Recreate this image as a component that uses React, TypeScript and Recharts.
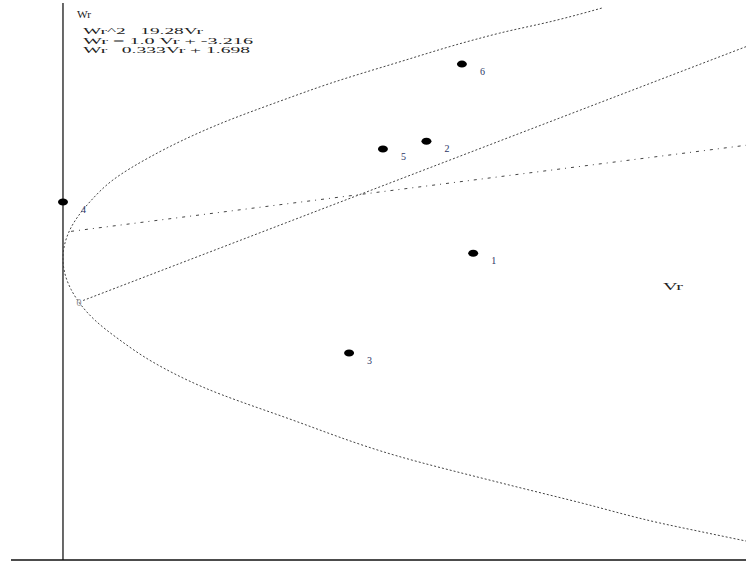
import React from 'react'
import { ReferenceLine, Scatter, ScatterChart, XAxis, YAxis } from 'recharts'

// Wr^2 = 19.28 Vr (Vr, Wr)
const upperBranch = [
    { vr: 13.37, wr: 16.23 },
    { vr: 12.16, wr: 15.39 },
    { vr: 10.84, wr: 14.61 },
    { vr: 10.18, wr: 14.16 },
    { vr: 8.3, wr: 12.7 },
    { vr: 6.63, wr: 11.35 },
    { vr: 5.46, wr: 10.27 },
    { vr: 3.82, wr: 8.65 },
    { vr: 2.16, wr: 6.58 },
    { vr: 1.24, wr: 5.09 },
    { vr: 0.67, wr: 3.68 },
    { vr: 0.17, wr: 1.85 },
    { vr: 0.04, wr: 0.9 },
    { vr: 0, wr: 0 },
]
const lowerBranch = [
    { vr: 0.04, wr: -0.9 },
    { vr: 0.2, wr: -2.0 },
    { vr: 0.79, wr: -3.99 },
    { vr: 1.41, wr: -5.28 },
    { vr: 2.23, wr: -6.71 },
    { vr: 3.47, wr: -8.33 },
    { vr: 5.56, wr: -10.34 },
    { vr: 8.3, wr: -12.8 },
    { vr: 10.8, wr: -14.5 },
    { vr: 12.8, wr: -15.8 },
    { vr: 14.81, wr: -17.14 },
    { vr: 15.88, wr: -17.73 },
    { vr: 16.95, wr: -18.31 },
]

// Wr = 1.0 Vr - 3.216
const fitLine = [
    { vr: 0.5, wr: -2.72 },
    { vr: 16.95, wr: 13.73 },
]
// Wr = 0.333 Vr + 1.698
const flatLine = [
    { vr: 0.2, wr: 1.76 },
    { vr: 16.95, wr: 7.34 },
]

const samples = [
    { vr: 10.18, wr: 0.34, tag: '1' },
    { vr: 9.02, wr: 7.6, tag: '2' },
    { vr: 7.1, wr: -6.12, tag: '3' },
    { vr: 0, wr: 3.66, tag: '4' },
    { vr: 7.94, wr: 7.1, tag: '5' },
    { vr: 9.9, wr: 12.6, tag: '6' },
]
const originMark = [{ vr: 0.4, wr: -2.82, tag: '0' }]

const equations = ['Wr^2   19.28Vr', 'Wr = 1.0 Vr + -3.216', 'Wr   0.333Vr + 1.698']
const eqWidths = [120, 170, 167]

const vrDomain = [-1.29, 16.95]
const wrDomain = [-19.54, 16.56]

const serif = '"Liberation Serif", "Times New Roman", serif'

const Hidden = () => <g />

const SampleDot = (p: any) => (
    <g>
        <ellipse cx={p.cx} cy={p.cy} rx={5} ry={3.5} fill="#000" />
        <text x={p.cx + 18} y={p.cy + 11} fontSize={10} fontFamily={serif} fill="#2b3566">
            {p.payload.tag}
        </text>
    </g>
)

const OriginText = (p: any) => (
    <text x={p.cx} y={p.cy + 3.5} fontSize={10} fontFamily={serif} fill="#888" textAnchor="middle">
        {p.payload.tag}
    </text>
)

const App = () => {
    return (
        <div style={{ position: 'absolute', left: 0, top: 0, width: 746, height: 561, background: '#fff' }}>
            <ScatterChart width={746} height={561} margin={{ top: 3, right: 0, bottom: 0, left: 11 }}>
                <XAxis
                    type="number"
                    dataKey="vr"
                    domain={vrDomain}
                    allowDataOverflow
                    height={1}
                    tick={false}
                    tickLine={false}
                    axisLine={{ stroke: '#111', strokeWidth: 1.5 }}
                />
                <YAxis type="number" dataKey="wr" domain={wrDomain} allowDataOverflow hide />
                <ReferenceLine x={0} stroke="#444" strokeWidth={1.6} />
                <Scatter
                    data={[...upperBranch, ...lowerBranch]}
                    shape={Hidden}
                    line={{ stroke: '#444', strokeWidth: 1, strokeDasharray: '2 2' }}
                    lineJointType="monotoneY"
                    isAnimationActive={false}
                />
                <Scatter
                    data={fitLine}
                    shape={Hidden}
                    line={{ stroke: '#444', strokeWidth: 1, strokeDasharray: '2 2' }}
                    isAnimationActive={false}
                />
                <Scatter
                    data={flatLine}
                    shape={Hidden}
                    line={{ stroke: '#444', strokeWidth: 1, strokeDasharray: '3 5 1 5' }}
                    isAnimationActive={false}
                />
                <Scatter data={originMark} shape={OriginText} isAnimationActive={false} />
                <Scatter data={samples} shape={SampleDot} isAnimationActive={false} />
            </ScatterChart>
            <svg
                width={746}
                height={561}
                style={{ position: 'absolute', left: 0, top: 0, pointerEvents: 'none' }}
            >
                <text
                    x={77}
                    y={18}
                    fontSize={11}
                    fontFamily={serif}
                    fill="#222"
                    textLength={14}
                    lengthAdjust="spacingAndGlyphs"
                >
                    Wr
                </text>
                {equations.map((eq, i) => (
                    <text
                        key={eq}
                        x={83}
                        y={34 + i * 9.5}
                        fontSize={9}
                        fontFamily={serif}
                        fill="#222"
                        textLength={eqWidths[i]}
                        lengthAdjust="spacingAndGlyphs"
                        style={{ whiteSpace: 'pre' }}
                    >
                        {eq}
                    </text>
                ))}
                <text
                    x={663}
                    y={290}
                    fontSize={11}
                    fontFamily={serif}
                    fill="#222"
                    textLength={20}
                    lengthAdjust="spacingAndGlyphs"
                >
                    Vr
                </text>
            </svg>
        </div>
    )
}

export default App
